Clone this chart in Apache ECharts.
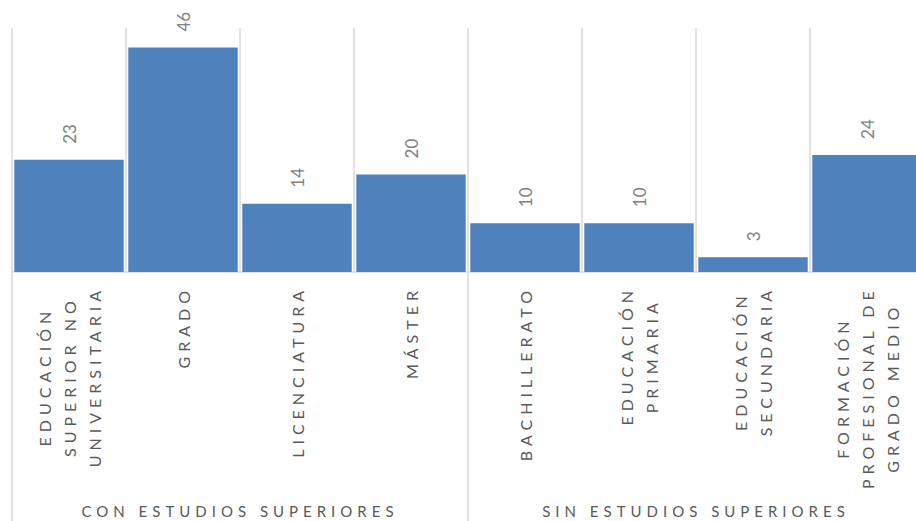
<!DOCTYPE html>
<html>
<head>
<meta charset="utf-8">
<script src="https://cdn.jsdelivr.net/npm/echarts@6/dist/echarts.min.js"></script>
<style>
  html, body { margin: 0; padding: 0; background: #fff; overflow: hidden; width: 916px; height: 521px; }
  #chart { width: 940px; height: 521px; }
  #chart text[fill="#595959"] { letter-spacing: 5px; }
</style>
</head>
<body>
<div id="chart"></div>
<script>
const groups = ['CON ESTUDIOS SUPERIORES', 'SIN ESTUDIOS SUPERIORES'];
const categories = [
  'EDUCACIÓN\nSUPERIOR NO\nUNIVERSITARIA',
  'GRADO',
  'LICENCIATURA',
  'MÁSTER',
  'BACHILLERATO',
  'EDUCACIÓN\nPRIMARIA',
  'EDUCACIÓN\nSECUNDARIA',
  'FORMACIÓN\nPROFESIONAL DE\nGRADO MEDIO'
];
const values = [23, 46, 14, 20, 10, 10, 3, 24];

// measure spaced text (letter-spacing) consistently with how it is drawn
const SPACING = 5;
const mctx = document.createElement('canvas').getContext('2d');
echarts.setPlatformAPI({
  measureText(text, font) {
    mctx.font = font;
    mctx.letterSpacing = (font && font.indexOf('spaced') >= 0) ? SPACING + 'px' : '0px';
    return mctx.measureText(text);
  }
});

const chart = echarts.init(document.getElementById('chart'), null, { renderer: 'svg' });
const gridColor = '#d9d9d9';
const spacedFont = 'Lato, spaced';
const font = 'Lato, sans-serif';

chart.setOption({
  animation: false,
  grid: { left: 12, top: 28, width: 912, height: 244 },
  xAxis: [
    {
      type: 'category',
      data: categories,
      position: 'bottom',
      axisLine: { show: true, lineStyle: { color: gridColor, width: 1.5 } },
      axisTick: { show: false },
      splitLine: { show: true, lineStyle: { color: gridColor, width: 1.5 } },
      axisLabel: {
        interval: 0,
        rotate: 90,
        margin: 14,
        formatter: v => v.split('\n').map(s => '{c|' + s + '}').join('\n'),
        rich: {
          c: { align: 'center', fontSize: 16, fontFamily: spacedFont, color: '#595959', lineHeight: 25 }
        }
      }
    },
    {
      type: 'category',
      data: groups,
      position: 'bottom',
      axisLine: { show: false },
      axisTick: { show: true, length: 250, lineStyle: { color: gridColor, width: 1.5 } },
      splitLine: { show: false },
      axisLabel: {
        interval: 0,
        margin: 229,
        fontSize: 15,
        fontFamily: spacedFont,
        color: '#595959'
      }
    }
  ],
  yAxis: {
    type: 'value',
    min: 0,
    max: 50,
    show: false,
    splitLine: { show: false }
  },
  series: [
    {
      type: 'bar',
      data: values,
      xAxisIndex: 0,
      barCategoryGap: '4%',
      itemStyle: { color: '#4f81bd' },
      label: {
        show: true,
        position: 'top',
        rotate: 90,
        align: 'left',
        verticalAlign: 'middle',
        distance: 16,
        fontSize: 17,
        fontFamily: font,
        color: '#7f7f7f'
      }
    }
  ]
});
</script>
</body>
</html>
